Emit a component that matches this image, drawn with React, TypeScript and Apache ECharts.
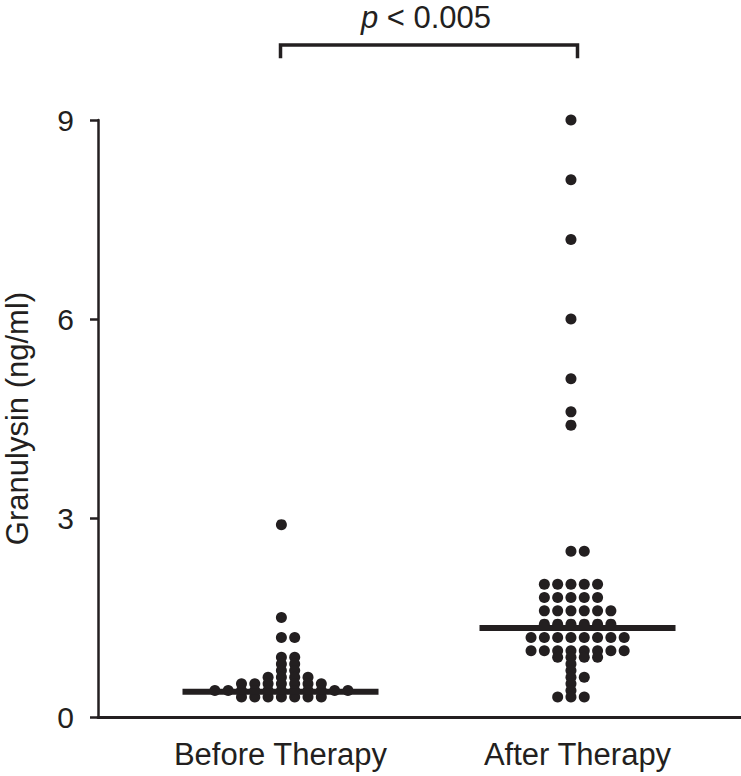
import React, { useEffect, useRef } from "react";
import * as echarts from "echarts";

const categories = ["Before Therapy", "After Therapy"];
const groupCenters = [1, 2];
const swarmShift = [0.003, -0.022];
const columnSpacing = 0.0448;

const beforeValues = [
  2.9, 1.5, 1.2, 1.2, 0.9, 0.9, 0.8, 0.8, 0.7, 0.7,
  0.6, 0.6, 0.6, 0.6,
  0.5, 0.5, 0.5, 0.5, 0.5, 0.5, 0.5,
  0.4, 0.4, 0.4, 0.4, 0.4, 0.4, 0.4, 0.4, 0.4, 0.4, 0.4,
  0.3, 0.3, 0.3, 0.3, 0.3, 0.3, 0.3,
];

const afterValues = [
  9.0, 8.1, 7.2, 6.0, 5.1, 4.6, 4.4, 2.5, 2.5,
  2.0, 2.0, 2.0, 2.0, 2.0,
  1.8, 1.8, 1.8, 1.8, 1.8,
  1.6, 1.6, 1.6, 1.6, 1.6, 1.6,
  1.4, 1.4, 1.4, 1.4, 1.4, 1.4,
  1.2, 1.2, 1.2, 1.2, 1.2, 1.2, 1.2, 1.2,
  1.0, 1.0, 1.0, 1.0, 1.0, 1.0, 1.0, 1.0,
  0.9, 0.9, 0.9, 0.9,
  0.8, 0.7, 0.6, 0.6, 0.5, 0.4,
  0.3, 0.3, 0.3,
];

const medians = [0.38, 1.34];
const medianHalfWidth = 0.33;
const yMin = 0;
const yMax = 9;
const yInterval = 3;
const bracketTop = 10.13;
const bracketEnd = 9.93;
const pLabel = "{i|p} < 0.005";

const ink = "#231f20";
const font = "'Liberation Sans', Arial, Helvetica, sans-serif";

function swarm(values: number[], center: number, shift: number): number[][] {
  const bins = new Map<string, number[]>();
  values.forEach((v) => {
    const key = v.toFixed(2);
    if (!bins.has(key)) bins.set(key, []);
    bins.get(key)!.push(v);
  });
  const pts: number[][] = [];
  bins.forEach((arr) => {
    const n = arr.length;
    const start = -Math.floor((n - 1) / 2);
    arr.forEach((v, i) => {
      pts.push([center + shift + (start + i) * columnSpacing, v]);
    });
  });
  return pts;
}

export default function App() {
  const ref = useRef<HTMLDivElement>(null);
  useEffect(() => {
    if (!ref.current) return;
    const chart = echarts.init(ref.current, undefined, { renderer: "svg" });
    const groups = [beforeValues, afterValues];
    const series: any[] = [];
    groups.forEach((vals, g) => {
      series.push({
        type: "scatter",
        data: swarm(vals, groupCenters[g], swarmShift[g]),
        symbol: "circle",
        symbolSize: 11,
        itemStyle: { color: ink, opacity: 1 },
        silent: true,
      });
      series.push({
        type: "line",
        data: [
          [groupCenters[g] - medianHalfWidth, medians[g]],
          [groupCenters[g] + medianHalfWidth, medians[g]],
        ],
        symbol: "none",
        lineStyle: { color: ink, width: 6, cap: "butt" },
        silent: true,
        z: 5,
      });
    });
    series.push({
      type: "line",
      data: [
        [groupCenters[0], bracketEnd],
        [groupCenters[0], bracketTop],
        [groupCenters[1], bracketTop],
        [groupCenters[1], bracketEnd],
      ],
      symbol: "none",
      clip: false,
      lineStyle: { color: ink, width: 3.5, cap: "butt", join: "miter" },
      silent: true,
    });

    chart.setOption({
      animation: false,
      backgroundColor: "#ffffff",
      grid: {
        left: 98,
        right: 0,
        top: 120,
        bottom: 59,
        containLabel: false,
        outerBoundsMode: "none",
      },
      xAxis: {
        type: "value",
        min: 0.3855,
        max: 2.5505,
        splitLine: { show: false },
        axisLine: { show: true, onZero: false, lineStyle: { color: ink, width: 3 } },
        axisTick: { show: false },
        axisLabel: {
          show: true,
          customValues: groupCenters,
          formatter: (v: number) => categories[groupCenters.indexOf(v)] ?? "",
          color: ink,
          fontSize: 31,
          fontFamily: font,
          margin: 22,
        },
      },
      yAxis: {
        type: "value",
        min: yMin,
        max: yMax,
        interval: yInterval,
        name: "Granulysin (ng/ml)",
        nameLocation: "middle",
        nameRotate: 90,
        nameGap: 65,
        nameTextStyle: { color: ink, fontSize: 31, fontFamily: font },
        splitLine: { show: false },
        axisLine: { show: true, lineStyle: { color: ink, width: 2.5 } },
        axisTick: { show: true, inside: false, length: 8, lineStyle: { color: ink, width: 2.5 } },
        axisLabel: { color: ink, fontSize: 30, fontFamily: font, margin: 24 },
      },
      graphic: [
        {
          type: "text",
          x: 426,
          y: 17,
          style: {
            text: pLabel,
            fill: ink,
            fontSize: 31,
            fontFamily: font,
            align: "center",
            verticalAlign: "middle",
            rich: { i: { fontStyle: "italic", fontSize: 31, fontFamily: font, fill: ink } },
          },
        },
      ],
      series,
    });
    return () => chart.dispose();
  }, []);
  return <div ref={ref} style={{ width: 741, height: 776, position: "absolute", left: 0, top: 0 }} />;
}
